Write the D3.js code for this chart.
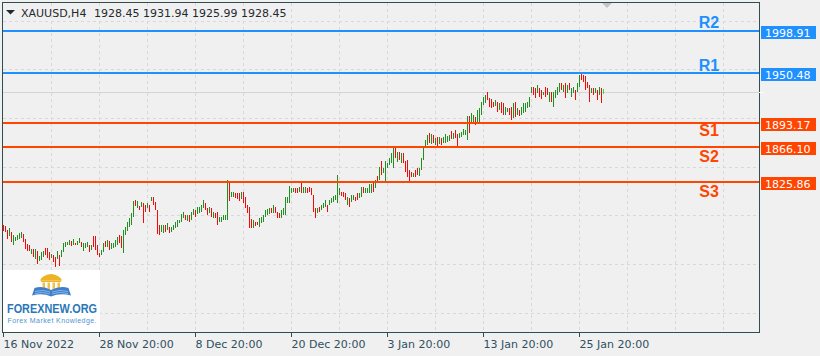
<!DOCTYPE html>
<html><head><meta charset="utf-8">
<script src="https://cdn.jsdelivr.net/npm/d3@7"></script>
<style>html,body{margin:0;padding:0;background:#f0f0f0;overflow:hidden}</style>
</head><body>
<svg id="c" width="820" height="356"></svg>
<script>
// ---------- DATA ----------
const symbol = "XAUUSD,H4";
const headerOHLC = [1928.45, 1931.94, 1925.99, 1928.45];
const bidPrice = 1928.45;

const highs = [
1776.3,1775.1,1770.5,1772.8,1768.3,1764.8,1762.5,1764.8,1767.1,1768.3,
1766.0,1760.2,1754.5,1753.4,1748.8,1748.8,1748.8,1746.5,1740.8,1745.3,
1746.5,1749.9,1749.9,1745.3,1743.1,1741.9,1739.6,1746.5,1741.9,1747.6,
1755.7,1756.8,1756.8,1759.1,1757.9,1760.2,1755.7,1757.9,1761.4,1756.8,
1755.7,1755.7,1756.8,1753.4,1753.4,1763.7,1763.7,1753.4,1744.2,1747.6,
1755.7,1757.9,1759.1,1757.9,1755.7,1755.7,1759.1,1762.5,1764.8,1763.7,
1770.5,1774.0,1779.7,1784.3,1790.0,1803.8,1804.9,1803.8,1798.0,1802.6,
1801.5,1799.2,1801.5,1799.2,1808.4,1808.4,1802.6,1793.5,1776.3,1776.3,
1776.3,1776.3,1778.6,1774.0,1774.0,1776.3,1779.7,1782.0,1782.0,1788.9,
1791.2,1787.7,1787.7,1787.7,1791.2,1794.6,1793.5,1796.9,1796.9,1799.2,
1804.9,1801.5,1795.8,1796.9,1795.8,1791.2,1790.0,1791.2,1785.4,1785.4,
1787.7,1787.7,1827.8,1825.5,1814.1,1814.1,1812.9,1812.9,1812.9,1814.1,
1814.1,1808.4,1799.2,1796.9,1783.2,1782.0,1779.7,1779.7,1784.3,1785.4,
1787.7,1793.5,1794.6,1795.8,1795.8,1799.2,1796.9,1791.2,1790.0,1793.5,
1795.8,1808.4,1808.4,1821.0,1818.7,1818.7,1818.7,1818.7,1819.8,1824.4,
1819.8,1819.8,1818.7,1819.8,1818.7,1810.6,1795.8,1795.8,1796.9,1799.2,
1801.5,1804.9,1799.2,1804.9,1807.2,1809.5,1810.6,1833.6,1818.7,1814.1,
1814.1,1812.9,1808.4,1807.2,1810.6,1810.6,1808.4,1812.9,1812.9,1819.8,
1819.8,1818.7,1818.7,1823.2,1823.2,1825.5,1827.8,1832.4,1842.7,1849.6,
1841.6,1849.6,1847.3,1853.0,1858.8,1864.5,1864.5,1859.9,1859.9,1858.8,
1858.8,1849.6,1850.7,1839.3,1837.0,1835.8,1839.3,1841.6,1841.6,1853.0,
1865.6,1873.6,1879.4,1881.7,1880.5,1879.4,1875.9,1877.1,1877.1,1875.9,
1877.1,1880.5,1878.2,1879.4,1884.0,1881.7,1885.1,1880.5,1881.7,1882.8,
1886.2,1885.1,1901.2,1901.2,1904.6,1902.3,1900.0,1908.0,1910.3,1917.2,
1922.9,1925.2,1928.7,1921.8,1920.6,1917.2,1919.5,1917.2,1916.1,1917.2,
1916.1,1911.5,1910.3,1910.3,1911.5,1916.1,1917.2,1910.3,1908.0,1911.5,
1916.1,1916.1,1917.2,1922.9,1934.4,1934.4,1933.3,1936.7,1933.3,1931.0,
1928.7,1934.4,1933.3,1928.7,1928.7,1928.7,1931.0,1934.4,1939.0,1939.0,
1936.7,1939.0,1936.7,1939.0,1933.3,1934.4,1931.0,1939.0,1948.2,1950.4,
1948.2,1947.0,1940.1,1936.7,1933.3,1933.3,1933.3,1931.0,1934.4,1933.3,
1931.94];

const lows = [
1769.4,1768.3,1760.2,1763.7,1756.8,1753.4,1757.9,1759.1,1760.2,1761.4,
1756.8,1748.8,1746.5,1746.5,1743.1,1739.6,1737.3,1731.6,1735.0,1736.2,
1739.6,1741.9,1738.5,1736.2,1738.5,1733.9,1728.1,1737.3,1729.3,1739.6,
1745.3,1751.1,1753.4,1753.4,1752.2,1753.4,1753.4,1753.4,1755.7,1751.1,
1746.5,1749.9,1751.1,1745.3,1747.6,1751.1,1747.6,1741.9,1739.6,1741.9,
1745.3,1751.1,1751.1,1747.6,1748.8,1749.9,1751.1,1753.4,1755.7,1749.9,
1744.2,1764.8,1769.4,1774.0,1776.3,1785.4,1798.0,1795.8,1793.5,1796.9,
1778.6,1791.2,1795.8,1791.2,1803.8,1799.2,1793.5,1766.0,1764.8,1768.3,
1767.1,1768.3,1770.5,1767.1,1768.3,1770.5,1772.8,1774.0,1778.6,1779.7,
1784.3,1782.0,1780.9,1779.7,1782.0,1787.7,1785.4,1788.9,1790.0,1791.2,
1795.8,1793.5,1787.7,1790.0,1785.4,1784.3,1784.3,1776.3,1779.7,1779.7,
1782.0,1782.0,1782.0,1803.8,1808.4,1808.4,1807.2,1806.1,1803.8,1806.1,
1801.5,1795.8,1790.0,1772.8,1772.8,1772.8,1775.1,1776.3,1774.0,1778.6,
1779.7,1785.4,1787.7,1788.9,1790.0,1790.0,1790.0,1784.3,1784.3,1784.3,
1787.7,1787.7,1801.5,1801.5,1812.9,1814.1,1812.9,1812.9,1814.1,1812.9,
1812.9,1812.9,1812.9,1814.1,1810.6,1791.2,1784.3,1790.0,1791.2,1793.5,
1795.8,1796.9,1791.2,1799.2,1801.5,1802.6,1804.9,1801.5,1810.6,1809.5,
1808.4,1804.9,1799.2,1796.9,1802.6,1804.9,1803.8,1804.9,1807.2,1808.4,
1812.9,1812.9,1812.9,1812.9,1812.9,1814.1,1818.7,1824.4,1827.8,1833.6,
1835.8,1825.5,1841.6,1845.0,1847.3,1841.6,1853.0,1848.4,1850.7,1847.3,
1847.3,1837.0,1831.3,1824.4,1831.3,1831.3,1831.3,1833.6,1832.4,1839.3,
1850.7,1864.5,1867.9,1870.2,1869.1,1870.2,1867.9,1866.8,1869.1,1867.9,
1870.2,1870.2,1871.4,1872.5,1874.8,1874.8,1875.9,1865.6,1875.9,1877.1,
1879.4,1879.4,1873.6,1881.7,1893.1,1893.1,1890.8,1893.1,1893.1,1902.3,
1913.8,1916.1,1919.5,1911.5,1910.3,1911.5,1912.6,1905.7,1908.0,1904.6,
1902.3,1902.3,1905.7,1902.3,1896.6,1898.9,1900.0,1902.3,1901.2,1902.3,
1904.6,1905.7,1910.3,1911.5,1927.5,1925.2,1921.8,1927.5,1922.9,1920.6,
1925.2,1922.9,1925.2,1917.2,1917.2,1911.5,1921.8,1925.2,1928.7,1931.0,
1928.7,1921.8,1927.5,1931.0,1922.9,1927.5,1919.5,1928.7,1934.4,1942.4,
1940.1,1931.0,1933.3,1917.2,1927.5,1925.2,1927.5,1919.5,1925.2,1916.1,
1925.99];

// u = bull bar, d = bear bar, c = current (forming) bar
const dirs = (
"ddduduuuuu" + "ddddududuu" + "uddduddudu" + "uuuududuud" + "uuududdddu" +
"ududuuuudd" + "uuuuuududu" + "ddududdddu" + "ududuuuuuu" + "ududuuduuu" +
"uddududduu" + "uuuduudddu" + "dddddudduu" + "uuuududddu" + "uuuuuuddud" +
"uudddddudu" + "uuduuuuuud" + "dduduudduu" + "duuuududud" + "uuuuuududu" +
"dddddudduu" + "uuudududud" + "uuuududduu" + "uuuduuduuu" + "uuddddudud" +
"duuddududu" + "uuuuuddudd" + "udduduuuud" + "ududuuduud" + "ddddududud" +
"c").split("");

const tickIdx = [0, 48, 96, 144, 192, 240, 288];
const tickLabels = ["16 Nov 2022","28 Nov 20:00","8 Dec 20:00","20 Dec 20:00","3 Jan 20:00","13 Jan 20:00","25 Jan 20:00"];

const levelNames  = ["R2","R1","S1","S2","S3"];
const levelPrices = [1998.91, 1950.48, 1893.17, 1866.10, 1825.86];
const levelKinds  = ["r","r","s","s","s"];

const gridPrices = [2010.4, 1954.6, 1898.8, 1843.0, 1787.2, 1731.4, 1675.6];

// ---------- LAYOUT ----------
const svg = d3.select("#c");
const L = 3, R = 759, T = 2.7, B = 332.7;
const x = d3.scaleLinear().domain([0, 378]).range([L, R]);
const y = d3.scaleLinear().domain([1652.8, 2031.0]).range([B, T]);
const FONT = "'DejaVu Sans', sans-serif";
const frameColor = "#2f4f4f";
const colors = {u:"#1f8f1f", d:"#f20a0a", c:"#32e632"};
const lvlColor = {r:"#1e90ff", s:"#ff4500"};

svg.append("rect").attr("width",820).attr("height",356).attr("fill","#f0f0f0");

// grid
const grid = svg.append("g").attr("stroke","#d8d8d8").attr("stroke-dasharray","3,3").attr("shape-rendering","crispEdges");
gridPrices.forEach(p => {
  const yy = Math.round(y(p)) + 0.5;
  grid.append("line").attr("x1",L).attr("x2",R).attr("y1",yy).attr("y2",yy);
});
d3.range(24, 378, 24).forEach(i => {
  const xx = Math.round(x(i)) + 0.5;
  grid.append("line").attr("x1",xx).attr("x2",xx).attr("y1",3).attr("y2",332);
});

// bid line
const by = Math.round(y(bidPrice)) + 0.5;
svg.append("line").attr("x1",L).attr("x2",R).attr("y1",by).attr("y2",by)
  .attr("stroke","#d4d4d4").attr("shape-rendering","crispEdges");

// bars
svg.append("g").attr("shape-rendering","crispEdges")
  .selectAll("rect").data(highs).join("rect")
  .attr("x",(d,i)=>Math.round(x(i)))
  .attr("y",(d,i)=>Math.round(y(highs[i])))
  .attr("width",1)
  .attr("height",(d,i)=>Math.max(1, Math.round(y(lows[i])) - Math.round(y(highs[i]))))
  .attr("fill",(d,i)=>colors[dirs[i]] || "#f20a0a");

// level lines
const lv = svg.append("g");
levelPrices.forEach((p,i) => {
  const yl = y(p);
  const c = lvlColor[levelKinds[i]];
  lv.append("rect").attr("x",L).attr("width",R-L).attr("y",Math.round(yl)-1).attr("height",2)
    .attr("fill",c).attr("shape-rendering","crispEdges");
  const off = [-2.3,-2.3,13.2,15.6,15.6][i];
  lv.append("text").attr("x",709).attr("y",yl+off).attr("text-anchor","middle")
    .attr("font-family","'Liberation Sans', Arial, sans-serif").attr("font-weight","bold")
    .attr("font-size",16).attr("fill",c).text(levelNames[i]);
  lv.append("rect").attr("x",761).attr("y",Math.round(yl)-5).attr("width",55).attr("height",13)
    .attr("fill",c).attr("shape-rendering","crispEdges");
  lv.append("text").attr("x",765).attr("y",Math.round(yl)+5.5)
    .attr("font-family",FONT).attr("font-size",11).attr("fill","#ffffff").text(p.toFixed(2));
});

// frame
svg.append("rect").attr("x",2.5).attr("y",2.5).attr("width",757).attr("height",330)
  .attr("fill","none").attr("stroke",frameColor).attr("shape-rendering","crispEdges");
svg.append("line").attr("x1",759).attr("x2",764).attr("y1",by).attr("y2",by)
  .attr("stroke","#ffffff").attr("shape-rendering","crispEdges");

// chart shift marker
svg.append("path").attr("d","M602,3 L612,3 L607,8 Z").attr("fill","#c4c4c4");

// header
svg.append("path").attr("d","M6,10 L15,10 L10.5,14.5 Z").attr("fill","#1f2a30");
svg.append("text").attr("x",21).attr("y",17).attr("font-family",FONT).attr("font-size",11)
  .attr("fill","#1f2a30").text(symbol);
svg.append("text").attr("x",94).attr("y",17).attr("font-family",FONT).attr("font-size",11)
  .attr("fill","#1f2a30").text(headerOHLC.map(v=>v.toFixed(2)).join(" "));

// x axis
const ax = d3.axisBottom(x).tickValues(tickIdx).tickFormat((d,i)=>tickLabels[i]).tickSize(4).tickSizeOuter(0);
const gx = svg.append("g").attr("transform","translate(0,333)").call(ax);
gx.select(".domain").remove();
gx.selectAll(".tick line").attr("stroke",frameColor);
gx.selectAll(".tick text").attr("text-anchor","start").attr("font-family",FONT)
  .attr("font-size",11).attr("fill","#2f4f5f");

// logo
const lg = svg.append("g");
lg.append("rect").attr("x",3).attr("y",270).attr("width",97).attr("height",62).attr("fill","#ffffff");
lg.append("path").attr("d","M40,280.5 Q42,275 51,274 Q60,275 62,280.5 Z").attr("fill","#ecb325");
lg.append("rect").attr("x",41).attr("y",280.5).attr("width",20).attr("height",1.5).attr("fill","#ecb325");
[42.5,47.5,52.5,57.5].forEach(cx => lg.append("rect").attr("x",cx).attr("y",282.5)
  .attr("width",2.5).attr("height",8).attr("fill","#f1c24a"));
lg.append("path").attr("d","M32,295.5 L34.5,288 Q43,285.5 51,290 L51,296.5 Q43,292.5 32,295.5 Z").attr("fill","#3e7ecb");
lg.append("path").attr("d","M71,295.5 L68.5,288 Q60,285.5 51,290 L51,296.5 Q60,292.5 71,295.5 Z").attr("fill","#3e7ecb");
[290.5,292.5].forEach(yy => {
  lg.append("path").attr("d",`M35,${yy+1} Q43,${yy-1.5} 50,${yy+1.5}`).attr("fill","none").attr("stroke","#a8c8ee").attr("stroke-width",0.7);
  lg.append("path").attr("d",`M68,${yy+1} Q60,${yy-1.5} 52,${yy+1.5}`).attr("fill","none").attr("stroke","#a8c8ee").attr("stroke-width",0.7);
});
lg.append("text").attr("x",7).attr("y",312.5).attr("font-family","'Liberation Sans', Arial, sans-serif")
  .attr("font-weight","bold").attr("font-size",13.5).attr("fill","#2b78b8")
  .attr("textLength",90).attr("lengthAdjust","spacingAndGlyphs").text("FOREXNEW.ORG");
lg.append("text").attr("x",7.5).attr("y",323).attr("font-family","'Liberation Sans', Arial, sans-serif")
  .attr("font-size",7).attr("fill","#4f95d3")
  .attr("textLength",89).attr("lengthAdjust","spacing").text("Forex Market Knowledge.");
</script>
</body></html>
